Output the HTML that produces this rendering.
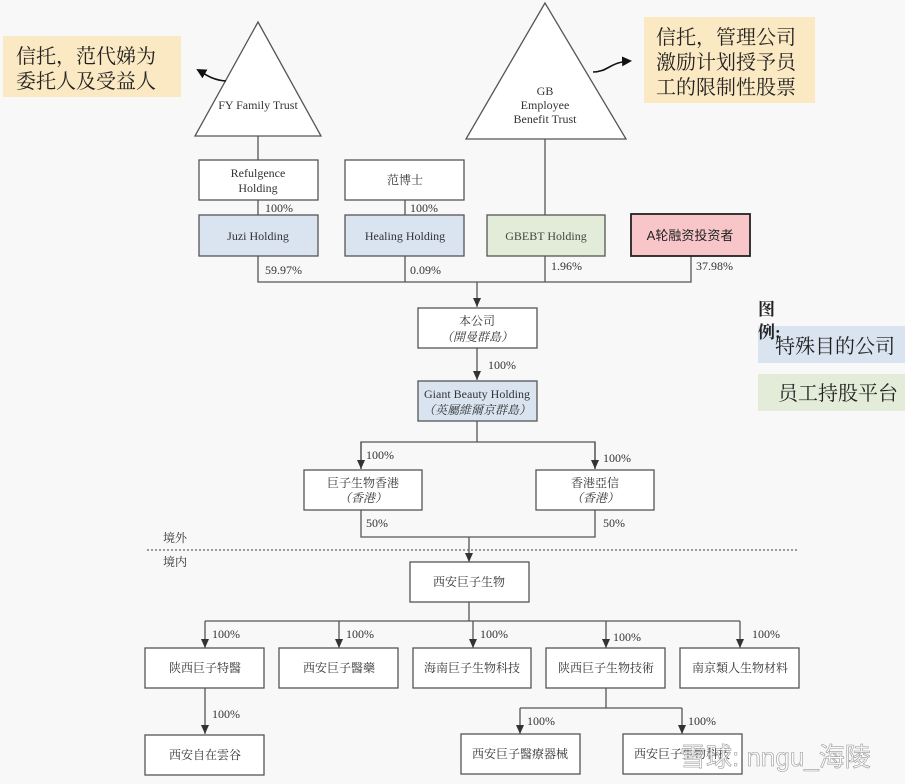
<!DOCTYPE html>
<html><head><meta charset="utf-8"><style>
html,body{margin:0;padding:0;background:#f8f8f8;}
svg{display:block;}
.s{font-family:"Liberation Serif","Noto Serif CJK SC",serif;font-size:12px;fill:#333;}
.k{font-family:"Liberation Serif","Noto Serif CJK SC",serif;fill:#222;}
</style></head><body>
<svg width="905" height="784" viewBox="0 0 905 784" xmlns="http://www.w3.org/2000/svg">
<defs><marker id="a" markerWidth="9" markerHeight="8" refX="9" refY="4" orient="auto" markerUnits="userSpaceOnUse"><path d="M0,0 L9,4 L0,8 z" fill="#333"/></marker>
<marker id="b" markerWidth="10" markerHeight="10" refX="8" refY="5" orient="auto" markerUnits="userSpaceOnUse"><path d="M0,0 L10,5 L0,10 z" fill="#111"/></marker></defs>
<rect width="905" height="784" fill="#f8f8f8"/>
<g stroke="#555" stroke-width="1.3" fill="none">
<polygon points="258,22 195,136 321,136" fill="#fff"/>
<polygon points="545,3 466,139 626,139" fill="#fff"/>
<line x1="258" y1="136" x2="258" y2="160"/>
<line x1="258" y1="200" x2="258" y2="215"/>
<line x1="405" y1="200" x2="405" y2="215"/>
<line x1="545" y1="139" x2="545" y2="215"/>
<polyline points="258,256 258,282 691,282 691,256"/>
<line x1="405" y1="256" x2="405" y2="282"/>
<line x1="545" y1="256" x2="545" y2="282"/>
<line x1="477" y1="282" x2="477" y2="307" marker-end="url(#a)"/>
<line x1="477" y1="348" x2="477" y2="380" marker-end="url(#a)"/>
<line x1="477" y1="421" x2="477" y2="442"/>
<polyline points="361,469 361,442 595,442 595,469"/>
<line x1="361" y1="442" x2="361" y2="469" marker-end="url(#a)"/>
<line x1="595" y1="442" x2="595" y2="469" marker-end="url(#a)"/>
<polyline points="361,510 361,537 595,537 595,510"/>
<line x1="469" y1="537" x2="469" y2="562" marker-end="url(#a)"/>
<line x1="469" y1="602" x2="469" y2="621"/>
<line x1="205" y1="621" x2="740" y2="621"/>
<line x1="205" y1="621" x2="205" y2="648" marker-end="url(#a)"/>
<line x1="339" y1="621" x2="339" y2="648" marker-end="url(#a)"/>
<line x1="473" y1="621" x2="473" y2="648" marker-end="url(#a)"/>
<line x1="606" y1="621" x2="606" y2="648" marker-end="url(#a)"/>
<line x1="740" y1="621" x2="740" y2="648" marker-end="url(#a)"/>
<line x1="205" y1="688" x2="205" y2="734" marker-end="url(#a)"/>
<line x1="606" y1="688" x2="606" y2="708"/>
<line x1="520" y1="708" x2="682" y2="708"/>
<line x1="520" y1="708" x2="520" y2="734" marker-end="url(#a)"/>
<line x1="682" y1="708" x2="682" y2="734" marker-end="url(#a)"/>
<rect x="199" y="160" width="119" height="40" fill="#fff"/>
<rect x="345" y="160" width="119" height="40" fill="#fff"/>
<rect x="199" y="215" width="119" height="41" fill="#d9e4f0"/>
<rect x="345" y="215" width="119" height="41" fill="#d9e4f0"/>
<rect x="487" y="215" width="118" height="41" fill="#e3ecd8"/>
<rect x="418" y="308" width="119" height="40" fill="#fff"/>
<rect x="418" y="381" width="119" height="40" fill="#d9e4f0"/>
<rect x="304" y="470" width="118" height="40" fill="#fff"/>
<rect x="536" y="470" width="118" height="40" fill="#fff"/>
<rect x="410" y="562" width="119" height="40" fill="#fff"/>
<rect x="145" y="648" width="119" height="40" fill="#fff"/>
<rect x="279" y="648" width="119" height="40" fill="#fff"/>
<rect x="413" y="648" width="118" height="40" fill="#fff"/>
<rect x="546" y="648" width="119" height="40" fill="#fff"/>
<rect x="680" y="648" width="119" height="40" fill="#fff"/>
<rect x="145" y="735" width="119" height="40" fill="#fff"/>
<rect x="461" y="734" width="119" height="40" fill="#fff"/>
<rect x="623" y="734" width="119" height="40" fill="#fff"/>
</g>
<rect x="631" y="214" width="119" height="42" fill="#f8c6c8" stroke="#222" stroke-width="1.8"/>
<line x1="147" y1="550" x2="798" y2="550" stroke="#666" stroke-width="1.2" stroke-dasharray="2,2"/>
<rect x="3" y="36" width="178" height="61" fill="#fbe9c3"/>
<rect x="644" y="17" width="171" height="86" fill="#fbe9c3"/>
<path d="M226,81 C212,80 205,74 198,70" stroke="#111" stroke-width="1.6" fill="none" marker-end="url(#b)"/>
<path d="M593,72 C608,72 610,62 630,61" stroke="#111" stroke-width="1.6" fill="none" marker-end="url(#b)"/>
<g class="k" font-size="20">
<text x="16" y="63">信托，范代娣为</text>
<text x="16" y="88">委托人及受益人</text>
<text x="656" y="44">信托，管理公司</text>
<text x="656" y="69">激励计划授予员</text>
<text x="656" y="94">工的限制性股票</text>
</g>
<rect x="758" y="326" width="147" height="37" fill="#d9e4f0"/>
<rect x="758" y="374" width="147" height="37" fill="#e3ecd8"/>
<text class="k" x="758" y="315" font-size="17" font-weight="bold">图</text>
<text class="k" x="758" y="338" font-size="17" font-weight="bold">例:</text>
<text class="k" x="775" y="353" font-size="20">特殊目的公司</text>
<text class="k" x="778" y="400" font-size="20">员工持股平台</text>
<g class="s" text-anchor="middle">
<text x="258" y="109">FY Family Trust</text>
<text x="545" y="95">GB</text>
<text x="545" y="109">Employee</text>
<text x="545" y="123">Benefit Trust</text>
<text x="258" y="177">Refulgence</text>
<text x="258" y="192">Holding</text>
<text x="405" y="184">范博士</text>
<text x="258" y="240">Juzi Holding</text>
<text x="405" y="240">Healing Holding</text>
<text x="546" y="240" fill="#444">GBEBT Holding</text>
<text x="690" y="240" fill="#222" font-family="Liberation Sans,Noto Sans CJK SC,sans-serif" font-size="13">A轮融资投资者</text>
<text x="477" y="325">本公司</text>
<text x="477" y="341" font-style="italic">（開曼群島）</text>
<text x="477" y="398">Giant Beauty Holding</text>
<text x="477" y="414" font-style="italic">（英屬維爾京群島）</text>
<text x="363" y="487">巨子生物香港</text>
<text x="363" y="502" font-style="italic">（香港）</text>
<text x="595" y="487">香港亞信</text>
<text x="595" y="502" font-style="italic">（香港）</text>
<text x="469" y="586">西安巨子生物</text>
<text x="205" y="672">陕西巨子特醫</text>
<text x="339" y="672">西安巨子醫藥</text>
<text x="472" y="672">海南巨子生物科技</text>
<text x="606" y="672">陕西巨子生物技術</text>
<text x="740" y="672">南京類人生物材料</text>
<text x="205" y="759">西安自在雲谷</text>
<text x="520" y="758">西安巨子醫療器械</text>
<text x="682" y="758">西安巨子生物科技</text>
</g>
<g class="s">
<text x="265" y="212">100%</text>
<text x="410" y="212">100%</text>
<text x="265" y="274">59.97%</text>
<text x="410" y="274">0.09%</text>
<text x="551" y="270">1.96%</text>
<text x="696" y="270">37.98%</text>
<text x="488" y="369">100%</text>
<text x="366" y="459">100%</text>
<text x="603" y="462">100%</text>
<text x="366" y="527">50%</text>
<text x="603" y="527">50%</text>
<text x="163" y="542">境外</text>
<text x="163" y="566">境内</text>
<text x="212" y="638">100%</text>
<text x="346" y="638">100%</text>
<text x="480" y="638">100%</text>
<text x="613" y="641">100%</text>
<text x="752" y="638">100%</text>
<text x="212" y="718">100%</text>
<text x="527" y="725">100%</text>
<text x="688" y="725">100%</text>
</g>
<text x="680" y="766" font-family="Liberation Sans,Noto Sans CJK SC,sans-serif" font-size="26" fill="#fff" fill-opacity="0.75" stroke="#999" stroke-width="0.6">雪球: nngu_海陵</text>
</svg>
</body></html>
